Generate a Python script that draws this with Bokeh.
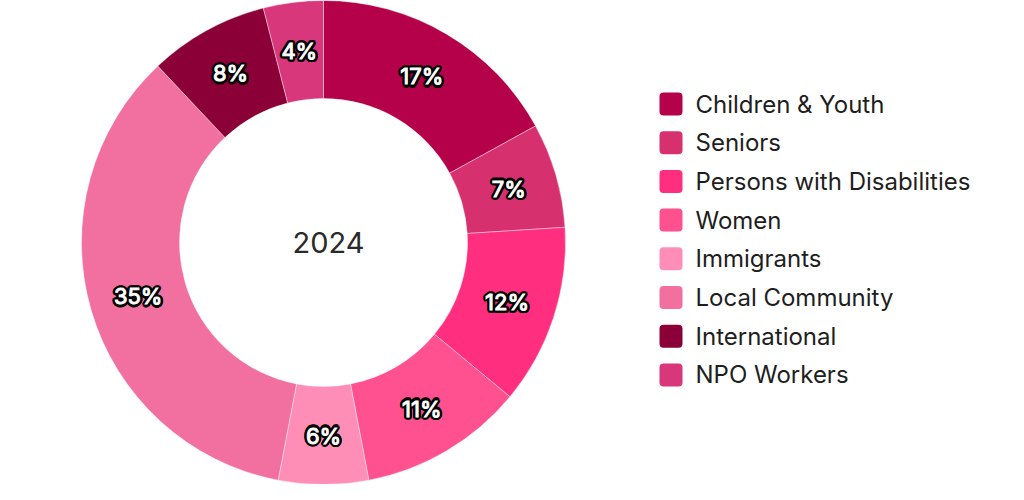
import numpy as np
from bokeh.plotting import figure
from bokeh.models import ColumnDataSource
from bokeh.core.properties import value
from bokeh.embed import file_html
from bokeh.resources import INLINE

# data
categories = ["Children & Youth", "Seniors", "Persons with Disabilities", "Women",
              "Immigrants", "Local Community", "International", "NPO Workers"]
shares = [17, 7, 12, 11, 6, 35, 8, 4]
colors = ["#B5004A", "#D6306F", "#FF2E7E", "#FF5090",
          "#FF8EB7", "#F2709F", "#8B0036", "#D9377B"]
center_label = "2024"

W, H = 1008, 484
cx, cy = 323, H - 242
r_out, r_in = 242, 144

p = figure(width=W, height=H, x_range=(0, W), y_range=(0, H),
           output_backend="svg", toolbar_location=None, min_border=0)
p.axis.visible = False
p.grid.visible = False
p.outline_line_color = None

# donut slices, clockwise from the top
frac = np.array(shares, dtype=float) / sum(shares)
cum = np.concatenate([[0], np.cumsum(frac)])
start = np.pi / 2 - cum[:-1] * 2 * np.pi
end = np.pi / 2 - cum[1:] * 2 * np.pi
mid = (start + end) / 2
r_mid = (r_out + r_in) / 2

src = ColumnDataSource(dict(start=start, end=end, color=colors, cat=categories,
                            lx=cx + r_mid * np.cos(mid), ly=cy + r_mid * np.sin(mid),
                            lab=[f"{s}%" for s in shares]))
p.annular_wedge(x=cx, y=cy, inner_radius=r_in, outer_radius=r_out,
                start_angle="start", end_angle="end", direction="clock",
                fill_color="color", line_color="white", line_width=0.4, source=src)

# black halo behind the percentage labels
for a in np.linspace(0, 2 * np.pi, 16, endpoint=False):
    p.text(x="lx", y="ly", text="lab", source=src, text_align="center", text_baseline="middle",
           x_offset=2.3 * np.cos(a), y_offset=2.3 * np.sin(a),
           text_font=value("Inter"), text_font_size="22px",
           text_color="black", text_outline_color="black")
p.text(x="lx", y="ly", text="lab", source=src, text_align="center", text_baseline="middle",
       text_font=value("Inter"), text_font_size="22px",
       text_color="white", text_outline_color="white")

p.text(x=[cx + 5], y=[cy], text=[center_label], text_align="center", text_baseline="middle",
       text_font=value("Inter"), text_font_size="29px", text_color="#2a2a2a")

# legend
n = len(categories)
rows = np.arange(n)
ly = H - (103.5 + rows * 38.7)
leg = ColumnDataSource(dict(left=np.full(n, 659), right=np.full(n, 682),
                            top=ly + 11.5, bottom=ly - 11.5, color=colors,
                            tx=np.full(n, 695), ty=ly, cat=categories))
p.quad(left="left", right="right", top="top", bottom="bottom", fill_color="color",
       line_color=None, border_radius=4, source=leg)
p.text(x="tx", y="ty", text="cat", source=leg, text_baseline="middle",
       text_font=value("Inter"), text_font_size="24px", text_color="#1e1e1e")

open("out.html", "w").write(file_html(p, INLINE))
